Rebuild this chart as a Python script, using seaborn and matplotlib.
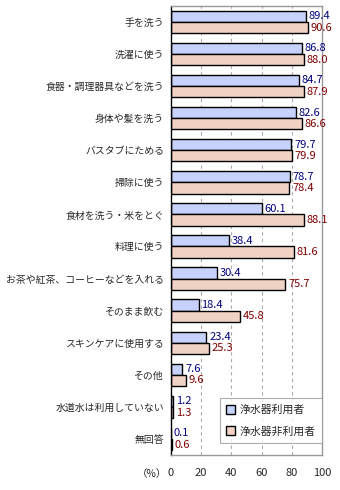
import matplotlib
matplotlib.use("Agg")
import matplotlib.pyplot as plt
import seaborn as sns
import pandas as pd
import numpy as np
from matplotlib.ticker import FixedLocator

categories = ["手を洗う", "洗濯に使う", "食器・調理器具などを洗う", "身体や髪を洗う",
              "バスタブにためる", "掃除に使う", "食材を洗う・米をとぐ", "料理に使う",
              "お茶や紅茶、コーヒーなどを入れる", "そのまま飲む", "スキンケアに使用する",
              "その他", "水道水は利用していない", "無回答"]
users = [89.4, 86.8, 84.7, 82.6, 79.7, 78.7, 60.1, 38.4, 30.4, 18.4, 23.4, 7.6, 1.2, 0.1]
nonusers = [90.6, 88.0, 87.9, 86.6, 79.9, 78.4, 88.1, 81.6, 75.7, 45.8, 25.3, 9.6, 1.3, 0.6]
series = ["浄水器利用者", "浄水器非利用者"]
xticks = [0, 20, 40, 60, 80, 100]

sns.set_theme(style="white")
plt.rcParams['font.family'] = ['Noto Sans CJK JP', 'DejaVu Sans']

df = pd.DataFrame({
    "cat": categories * 2,
    "val": users + nonusers,
    "grp": [series[0]] * len(categories) + [series[1]] * len(categories),
})

colors = ["#c6d2fb", "#f1d3c6"]
fig = plt.figure(figsize=(3.4, 4.9), dpi=100)
ax = fig.add_axes([0.503, 0.0714, 0.444, 0.9166])
sns.barplot(data=df, y="cat", x="val", hue="grp", palette=colors, width=0.7,
            edgecolor="black", linewidth=1.0, ax=ax, orient="h", saturation=1)

ax.set_xlim(0, 100)
ax.set_ylim(len(categories) - 0.5, -0.5)
ax.set_xticks(xticks)
ax.set_xticklabels([str(t) for t in xticks], fontsize=8)
ax.set_xlabel("")
ax.set_ylabel("")
ax.tick_params(axis='x', length=0, pad=9)
ax.tick_params(axis='y', which='major', length=0, labelsize=7.1, pad=5)
ax.yaxis.set_minor_locator(FixedLocator(np.arange(-0.5, len(categories), 1.0)))
ax.tick_params(axis='y', which='minor', direction='in', length=3, width=0.8, color='black')

for x in xticks[1:-1]:
    ax.axvline(x, color='#aaaaaa', linestyle=(0, (3, 3)), linewidth=0.8, zorder=0)

for name, sp in ax.spines.items():
    sp.set_color('#999999')
    sp.set_linewidth(1.0)
ax.spines['left'].set_color('black')

label_colors = ["#000080", "#800000"]
for cont, lc in zip(ax.containers, label_colors):
    ax.bar_label(cont, fmt="%.1f", padding=2, color=lc, fontsize=8)

fig.text(0.49, 0.0714 - 0.0395, "（%）", ha='right', va='center', fontsize=7.5)

leg = ax.legend(loc='lower right', bbox_to_anchor=(1.0, 0.027), fontsize=7.8,
                frameon=True, fancybox=False, edgecolor='#999999',
                handlelength=0.8, handleheight=0.8, handletextpad=0.4,
                borderpad=0.6, labelspacing=1.0, borderaxespad=0.0)
leg.get_frame().set_linewidth(0.8)

fig.savefig("out.png", dpi=100)
